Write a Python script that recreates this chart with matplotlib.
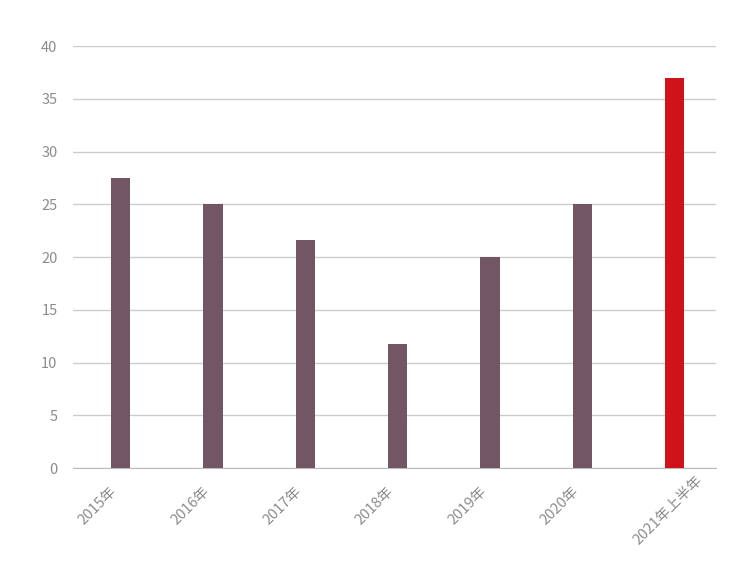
import numpy as np
import matplotlib.pyplot as plt
import matplotlib.transforms as mtransforms

plt.rcParams['font.family'] = ['Noto Sans CJK SC', 'DejaVu Sans']

years = ['2015年', '2016年', '2017年', '2018年', '2019年', '2020年', '2021年上半年']
values = [27.5, 25, 21.6, 11.8, 20, 25, 37]
colors = ['#735664'] * 6 + ['#d0121b']

fig = plt.figure(figsize=(7.42, 5.68), dpi=100)
ax = fig.add_axes([0.098, 0.176, 0.867, 0.743])

x = np.arange(len(years))
ax.bar(x, values, width=0.21, color=colors, zorder=3)

ax.set_ylim(0, 40)
ax.set_yticks(range(0, 41, 5))
ax.set_xlim(-0.52, 6.45)
ax.set_xticks(x)
ax.set_xticklabels([])

# rotated category labels; the long last one sits further right in the original
base = ax.get_xaxis_transform()
for i, lab in enumerate(years):
    dx, dy = (-6, -21) if i < len(years) - 1 else (26, -10)
    off = mtransforms.ScaledTranslation(dx / 100, dy / 100, fig.dpi_scale_trans)
    ax.text(x[i], 0, lab, transform=base + off, rotation=45, rotation_mode='anchor',
            ha='right', va='center', color='#8c8c8c', fontsize=10.5)

ax.grid(axis='y', color='#cccccc', linewidth=1, zorder=0)
for s in ['top', 'right', 'left']:
    ax.spines[s].set_visible(False)
ax.spines['bottom'].set_color('#bbbbbb')
ax.tick_params(axis='both', length=0, colors='#8c8c8c', labelsize=10.5)
ax.tick_params(axis='y', pad=11)

fig.savefig('out.png', dpi=100)
